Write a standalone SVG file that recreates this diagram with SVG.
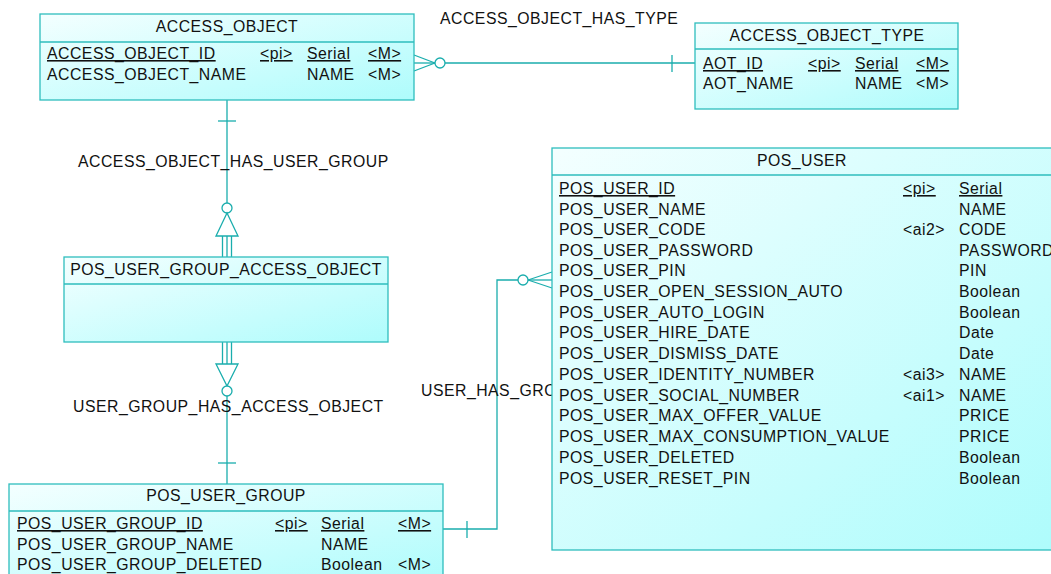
<svg xmlns="http://www.w3.org/2000/svg" width="1051" height="574" viewBox="0 0 1051 574">
<defs>
<linearGradient id="g" x1="0" y1="0" x2="1" y2="1">
<stop offset="0" stop-color="#f4ffff"/>
<stop offset="1" stop-color="#aefcfc"/>
</linearGradient>
<style>
.box{fill:url(#g);stroke:#2ebdbd;stroke-width:1.3}
.sep{stroke:#2ebdbd;stroke-width:1.3}
.t{font-family:"Liberation Sans",Arial,sans-serif;font-size:15.8px;fill:#111;letter-spacing:0.5px}
.u{text-decoration:underline}
.c{text-anchor:middle}
.ln{fill:none;stroke:#1aadad;stroke-width:1.3}
.ci{fill:#fff;stroke:#1aadad;stroke-width:1.3}
</style>
</defs>
<rect width="1051" height="574" fill="#fff"/>

<g id="connectors">
  <g id="c_access_object_has_type">
    <line class="ln" x1="445" y1="63" x2="695" y2="63"/>
    <line class="ln" x1="414" y1="55" x2="435" y2="63"/>
    <line class="ln" x1="414" y1="71" x2="435" y2="63"/>
    <line class="ln" x1="414" y1="63" x2="435" y2="63"/>
    <circle class="ci" cx="440" cy="63" r="5"/>
    <line class="ln" x1="672" y1="55" x2="672" y2="72"/>
    <text class="t" x="440" y="24">ACCESS_OBJECT_HAS_TYPE</text>
  </g>
  <g id="c_access_object_has_user_group">
    <line class="ln" x1="227" y1="100" x2="227" y2="203"/>
    <line class="ln" x1="218" y1="121" x2="236" y2="121"/>
    <circle class="ci" cx="227" cy="208" r="5"/>
    <polygon class="ln" points="227,213 216,236 238,236"/>
    <line class="ln" x1="222.5" y1="236" x2="222.5" y2="257"/>
    <line class="ln" x1="227" y1="236" x2="227" y2="257"/>
    <line class="ln" x1="231.5" y1="236" x2="231.5" y2="257"/>
    <text class="t" x="78" y="167">ACCESS_OBJECT_HAS_USER_GROUP</text>
  </g>
  <g id="c_user_group_has_access_object">
    <line class="ln" x1="222.5" y1="342" x2="222.5" y2="364"/>
    <line class="ln" x1="227" y1="342" x2="227" y2="364"/>
    <line class="ln" x1="231.5" y1="342" x2="231.5" y2="364"/>
    <polygon class="ln" points="216,364 238,364 227,386"/>
    <circle class="ci" cx="227" cy="391" r="5"/>
    <line class="ln" x1="227" y1="396" x2="227" y2="484"/>
    <line class="ln" x1="218" y1="463" x2="236" y2="463"/>
    <text class="t" x="73" y="412">USER_GROUP_HAS_ACCESS_OBJECT</text>
  </g>
  <g id="c_user_has_group">
    <polyline class="ln" points="443,529 497,529 497,280 518,280"/>
    <line class="ln" x1="467" y1="521" x2="467" y2="538"/>
    <circle class="ci" cx="523" cy="280" r="5"/>
    <line class="ln" x1="528" y1="280" x2="552" y2="272"/>
    <line class="ln" x1="528" y1="280" x2="552" y2="288"/>
    <line class="ln" x1="528" y1="280" x2="552" y2="280"/>
    <text class="t" x="421" y="396">USER_HAS_GROUP</text>
  </g>
</g>

<g id="access_object">
  <rect class="box" x="40" y="14" width="374" height="86"/>
  <line class="sep" x1="40" y1="42" x2="414" y2="42"/>
  <text class="t c" x="227" y="32">ACCESS_OBJECT</text>
  <text class="t u" x="47" y="59">ACCESS_OBJECT_ID</text>
  <text class="t u" x="260" y="59">&lt;pi&gt;</text>
  <text class="t u" x="307" y="59">Serial</text>
  <text class="t u" x="368" y="59">&lt;M&gt;</text>
  <text class="t" x="47" y="80">ACCESS_OBJECT_NAME</text>
  <text class="t" x="307" y="80">NAME</text>
  <text class="t" x="368" y="80">&lt;M&gt;</text>
</g>

<g id="access_object_type">
  <rect class="box" x="695" y="23" width="263" height="86"/>
  <line class="sep" x1="695" y1="49" x2="958" y2="49"/>
  <text class="t c" x="827" y="41">ACCESS_OBJECT_TYPE</text>
  <text class="t u" x="703" y="69">AOT_ID</text>
  <text class="t u" x="808" y="69">&lt;pi&gt;</text>
  <text class="t u" x="855" y="69">Serial</text>
  <text class="t u" x="916" y="69">&lt;M&gt;</text>
  <text class="t" x="703" y="89">AOT_NAME</text>
  <text class="t" x="855" y="89">NAME</text>
  <text class="t" x="916" y="89">&lt;M&gt;</text>
</g>

<g id="pos_user_group_access_object">
  <rect class="box" x="64" y="257" width="324" height="85"/>
  <line class="sep" x1="64" y1="284" x2="388" y2="284"/>
  <text class="t c" x="226" y="275">POS_USER_GROUP_ACCESS_OBJECT</text>
</g>

<g id="pos_user_group">
  <rect class="box" x="9" y="484" width="434" height="100"/>
  <line class="sep" x1="9" y1="511" x2="443" y2="511"/>
  <text class="t c" x="226" y="501">POS_USER_GROUP</text>
  <text class="t u" x="17" y="529">POS_USER_GROUP_ID</text>
  <text class="t u" x="275" y="529">&lt;pi&gt;</text>
  <text class="t u" x="321" y="529">Serial</text>
  <text class="t u" x="398" y="529">&lt;M&gt;</text>
  <text class="t" x="17" y="550">POS_USER_GROUP_NAME</text>
  <text class="t" x="321" y="550">NAME</text>
  <text class="t" x="17" y="570">POS_USER_GROUP_DELETED</text>
  <text class="t" x="321" y="570">Boolean</text>
  <text class="t" x="398" y="570">&lt;M&gt;</text>
</g>

<g id="pos_user">
  <rect class="box" x="552" y="148" width="502" height="402"/>
  <line class="sep" x1="552" y1="175" x2="1054" y2="175"/>
  <text class="t c" x="802" y="166">POS_USER</text>
  <text class="t u" x="559" y="194">POS_USER_ID</text>
  <text class="t u" x="903" y="194">&lt;pi&gt;</text>
  <text class="t u" x="959" y="194">Serial</text>
  <text class="t" x="559" y="215">POS_USER_NAME</text>
  <text class="t" x="959" y="215">NAME</text>
  <text class="t" x="559" y="235">POS_USER_CODE</text>
  <text class="t" x="903" y="235">&lt;ai2&gt;</text>
  <text class="t" x="959" y="235">CODE</text>
  <text class="t" x="559" y="256">POS_USER_PASSWORD</text>
  <text class="t" x="959" y="256">PASSWORD</text>
  <text class="t" x="559" y="276">POS_USER_PIN</text>
  <text class="t" x="959" y="276">PIN</text>
  <text class="t" x="559" y="297">POS_USER_OPEN_SESSION_AUTO</text>
  <text class="t" x="959" y="297">Boolean</text>
  <text class="t" x="559" y="318">POS_USER_AUTO_LOGIN</text>
  <text class="t" x="959" y="318">Boolean</text>
  <text class="t" x="559" y="338">POS_USER_HIRE_DATE</text>
  <text class="t" x="959" y="338">Date</text>
  <text class="t" x="559" y="359">POS_USER_DISMISS_DATE</text>
  <text class="t" x="959" y="359">Date</text>
  <text class="t" x="559" y="380">POS_USER_IDENTITY_NUMBER</text>
  <text class="t" x="903" y="380">&lt;ai3&gt;</text>
  <text class="t" x="959" y="380">NAME</text>
  <text class="t" x="559" y="401">POS_USER_SOCIAL_NUMBER</text>
  <text class="t" x="903" y="401">&lt;ai1&gt;</text>
  <text class="t" x="959" y="401">NAME</text>
  <text class="t" x="559" y="421">POS_USER_MAX_OFFER_VALUE</text>
  <text class="t" x="959" y="421">PRICE</text>
  <text class="t" x="559" y="442">POS_USER_MAX_CONSUMPTION_VALUE</text>
  <text class="t" x="959" y="442">PRICE</text>
  <text class="t" x="559" y="463">POS_USER_DELETED</text>
  <text class="t" x="959" y="463">Boolean</text>
  <text class="t" x="559" y="484">POS_USER_RESET_PIN</text>
  <text class="t" x="959" y="484">Boolean</text>
</g>
</svg>
